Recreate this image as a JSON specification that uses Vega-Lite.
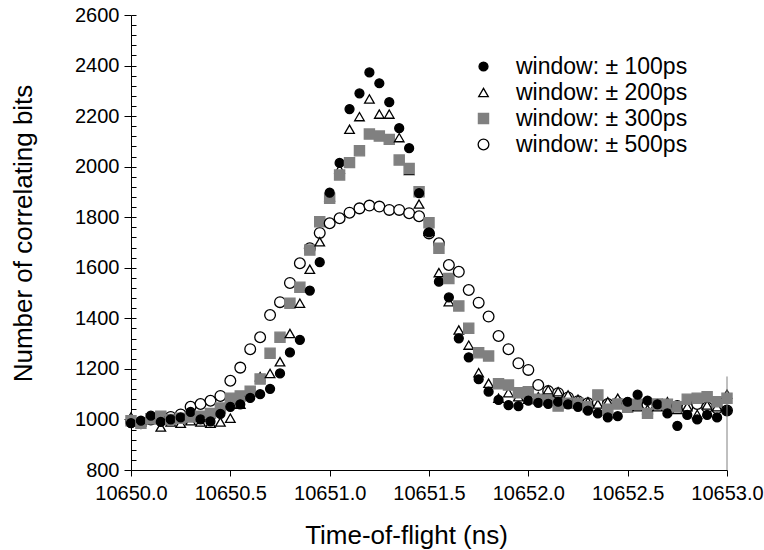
{
  "$schema": "https://vega.github.io/schema/vega-lite/v6.json",
  "width": 596,
  "height": 455,
  "autosize": {"type": "none"},
  "padding": {"left": 131, "top": 15, "right": 37, "bottom": 80},
  "background": "white",
  "config": {
    "view": {"stroke": null},
    "font": "Liberation Sans",
    "axis": {
      "grid": false,
      "domainColor": "#000000",
      "domainWidth": 1,
      "tickColor": "#000000",
      "tickWidth": 1,
      "labelColor": "#000000",
      "titleColor": "#000000",
      "labelFont": "Liberation Sans",
      "titleFont": "Liberation Sans",
      "labelFontSize": 20,
      "titleFontSize": 26,
      "titleFontWeight": "normal",
      "labelFlush": false,
      "labelOverlap": false
    },
    "legend": {
      "orient": "none",
      "legendX": 341,
      "legendY": 40,
      "title": null,
      "padding": 0,
      "labelFontSize": 23,
      "labelFont": "Liberation Sans",
      "labelColor": "#000000",
      "labelOffset": 21,
      "labelLimit": 400,
      "rowPadding": 2,
      "symbolStrokeWidth": 1.3
    }
  },
  "datasets": {
    "counts": [
      {"t": 10650.00, "w100": 985, "w200": 1010, "w300": 995, "w500": 990},
      {"t": 10650.05, "w100": 995, "w200": 990, "w300": 985, "w500": 985},
      {"t": 10650.10, "w100": 1015, "w200": 1000, "w300": 1003, "w500": 1000},
      {"t": 10650.15, "w100": 990, "w200": 970, "w300": 1013, "w500": 1005},
      {"t": 10650.20, "w100": 1000, "w200": 990, "w300": 1000, "w500": 1010},
      {"t": 10650.25, "w100": 1008, "w200": 985, "w300": 1005, "w500": 1020},
      {"t": 10650.30, "w100": 1030, "w200": 995, "w300": 1010, "w500": 1050},
      {"t": 10650.35, "w100": 1000, "w200": 990, "w300": 1013, "w500": 1061},
      {"t": 10650.40, "w100": 992, "w200": 985, "w300": 1024, "w500": 1074},
      {"t": 10650.45, "w100": 1022, "w200": 990, "w300": 1045, "w500": 1093},
      {"t": 10650.50, "w100": 1050, "w200": 1005, "w300": 1084, "w500": 1153},
      {"t": 10650.55, "w100": 1060, "w200": 1060, "w300": 1093, "w500": 1205},
      {"t": 10650.60, "w100": 1085, "w200": 1110, "w300": 1112, "w500": 1278},
      {"t": 10650.65, "w100": 1100, "w200": 1169, "w300": 1160, "w500": 1325},
      {"t": 10650.70, "w100": 1121, "w200": 1182, "w300": 1262, "w500": 1413},
      {"t": 10650.75, "w100": 1182, "w200": 1228, "w300": 1325, "w500": 1464},
      {"t": 10650.80, "w100": 1265, "w200": 1340, "w300": 1460, "w500": 1540},
      {"t": 10650.85, "w100": 1315, "w200": 1460, "w300": 1523, "w500": 1618},
      {"t": 10650.90, "w100": 1510, "w200": 1594, "w300": 1670, "w500": 1677},
      {"t": 10650.95, "w100": 1622, "w200": 1703, "w300": 1782, "w500": 1738},
      {"t": 10651.00, "w100": 1897, "w200": 1881, "w300": 1875, "w500": 1776},
      {"t": 10651.05, "w100": 2015, "w200": 1990, "w300": 1967, "w500": 1796},
      {"t": 10651.10, "w100": 2228, "w200": 2148, "w300": 2016, "w500": 1818},
      {"t": 10651.15, "w100": 2290, "w200": 2198, "w300": 2063, "w500": 1835},
      {"t": 10651.20, "w100": 2373, "w200": 2268, "w300": 2129, "w500": 1846},
      {"t": 10651.25, "w100": 2330, "w200": 2208, "w300": 2121, "w500": 1842},
      {"t": 10651.30, "w100": 2255, "w200": 2208, "w300": 2108, "w500": 1829},
      {"t": 10651.35, "w100": 2152, "w200": 2115, "w300": 2026, "w500": 1829},
      {"t": 10651.40, "w100": 2073, "w200": 1985, "w300": 1993, "w500": 1816},
      {"t": 10651.45, "w100": 1895, "w200": 1852, "w300": 1901, "w500": 1804},
      {"t": 10651.50, "w100": 1740, "w200": 1745, "w300": 1778, "w500": 1736},
      {"t": 10651.55, "w100": 1545, "w200": 1581, "w300": 1677, "w500": 1697},
      {"t": 10651.60, "w100": 1483, "w200": 1466, "w300": 1558, "w500": 1611},
      {"t": 10651.65, "w100": 1321, "w200": 1354, "w300": 1449, "w500": 1584},
      {"t": 10651.70, "w100": 1246, "w200": 1294, "w300": 1361, "w500": 1512},
      {"t": 10651.75, "w100": 1159, "w200": 1185, "w300": 1264, "w500": 1462},
      {"t": 10651.80, "w100": 1110, "w200": 1143, "w300": 1251, "w500": 1407},
      {"t": 10651.85, "w100": 1077, "w200": 1084, "w300": 1141, "w500": 1330},
      {"t": 10651.90, "w100": 1057, "w200": 1106, "w300": 1136, "w500": 1278},
      {"t": 10651.95, "w100": 1053, "w200": 1090, "w300": 1106, "w500": 1222},
      {"t": 10652.00, "w100": 1074, "w200": 1080, "w300": 1110, "w500": 1196},
      {"t": 10652.05, "w100": 1066, "w200": 1090, "w300": 1080, "w500": 1136},
      {"t": 10652.10, "w100": 1062, "w200": 1117, "w300": 1077, "w500": 1112},
      {"t": 10652.15, "w100": 1070, "w200": 1110, "w300": 1053, "w500": 1104},
      {"t": 10652.20, "w100": 1060, "w200": 1097, "w300": 1064, "w500": 1087},
      {"t": 10652.25, "w100": 1050, "w200": 1080, "w300": 1064, "w500": 1072},
      {"t": 10652.30, "w100": 1035, "w200": 1070, "w300": 1050, "w500": 1064},
      {"t": 10652.35, "w100": 1024, "w200": 1061, "w300": 1097, "w500": 1066},
      {"t": 10652.40, "w100": 1008, "w200": 1070, "w300": 1040, "w500": 1061},
      {"t": 10652.45, "w100": 1013, "w200": 1084, "w300": 1061, "w500": 1066},
      {"t": 10652.50, "w100": 1070, "w200": 1060, "w300": 1048, "w500": 1064},
      {"t": 10652.55, "w100": 1098, "w200": 1050, "w300": 1060, "w500": 1061},
      {"t": 10652.60, "w100": 1074, "w200": 1040, "w300": 1024, "w500": 1058},
      {"t": 10652.65, "w100": 1060, "w200": 1050, "w300": 1061, "w500": 1058},
      {"t": 10652.70, "w100": 1024, "w200": 1070, "w300": 1060, "w500": 1055},
      {"t": 10652.75, "w100": 975, "w200": 1040, "w300": 1050, "w500": 1053},
      {"t": 10652.80, "w100": 1018, "w200": 1050, "w300": 1080, "w500": 1048},
      {"t": 10652.85, "w100": 1000, "w200": 1020, "w300": 1084, "w500": 1061},
      {"t": 10652.90, "w100": 1018, "w200": 1057, "w300": 1090, "w500": 1048},
      {"t": 10652.95, "w100": 1008, "w200": 1050, "w300": 1070, "w500": 1044},
      {"t": 10653.00, "w100": 1035, "w200": 1100, "w300": 1084, "w500": 1035}
    ],
    "edge": [
      {"t": 10653.0, "lo": 800, "hi": 1170}
    ]
  },
  "layer": [
    {
      "data": {"name": "counts"},
      "transform": [
        {"fold": ["w500", "w200", "w300", "w100"], "as": ["series", "count"]}
      ],
      "mark": {"type": "point", "opacity": 1, "strokeWidth": 1.3},
      "encoding": {
        "x": {
          "field": "t",
          "type": "quantitative",
          "title": "Time-of-flight (ns)",
          "scale": {"domain": [10650, 10653], "nice": false, "zero": false},
          "axis": {
            "values": [10650, 10650.5, 10651, 10651.5, 10652, 10652.5, 10653],
            "format": ".1f",
            "tickSize": 6,
            "labelPadding": 7,
            "titleX": 275,
            "titleY": 73,
            "titleAlign": "center",
            "titleBaseline": "alphabetic"
          }
        },
        "y": {
          "field": "count",
          "type": "quantitative",
          "title": "Number of correlating bits",
          "scale": {"domain": [800, 2600], "nice": false, "zero": false},
          "axis": {
            "orient": "left",
            "values": [800, 1000, 1200, 1400, 1600, 1800, 2000, 2200, 2400, 2600],
            "format": "d",
            "tickSize": 7,
            "labelPadding": 5,
            "titleX": -100,
            "titleY": 218,
            "titleAlign": "center",
            "titleBaseline": "alphabetic"
          }
        },
        "shape": {
          "field": "series",
          "type": "nominal",
          "scale": {"domain": ["w100", "w200", "w300", "w500"], "range": ["circle", "triangle-up", "square", "circle"]},
          "legend": {"labelExpr": "{'w100': 'window: ± 100ps', 'w200': 'window: ± 200ps', 'w300': 'window: ± 300ps', 'w500': 'window: ± 500ps'}[datum.label]"}
        },
        "fill": {
          "field": "series",
          "type": "nominal",
          "scale": {"domain": ["w100", "w200", "w300", "w500"], "range": ["#000000", "#ffffff", "#808080", "#ffffff"]},
          "legend": {"labelExpr": "{'w100': 'window: ± 100ps', 'w200': 'window: ± 200ps', 'w300': 'window: ± 300ps', 'w500': 'window: ± 500ps'}[datum.label]"}
        },
        "stroke": {
          "field": "series",
          "type": "nominal",
          "scale": {"domain": ["w100", "w200", "w300", "w500"], "range": ["#000000", "#000000", "#808080", "#000000"]},
          "legend": {"labelExpr": "{'w100': 'window: ± 100ps', 'w200': 'window: ± 200ps', 'w300': 'window: ± 300ps', 'w500': 'window: ± 500ps'}[datum.label]"}
        },
        "size": {
          "field": "series",
          "type": "nominal",
          "scale": {"domain": ["w100", "w200", "w300", "w500"], "range": [80, 115, 64, 130]},
          "legend": {"labelExpr": "{'w100': 'window: ± 100ps', 'w200': 'window: ± 200ps', 'w300': 'window: ± 300ps', 'w500': 'window: ± 500ps'}[datum.label]"}
        }
      }
    },
    {
      "data": {"name": "counts"},
      "transform": [
        {"fold": ["w500", "w200", "w300", "w100"], "as": ["series", "count"]}
      ],
      "mark": {"type": "point", "opacity": 0},
      "encoding": {
        "x": {"field": "t", "type": "quantitative", "title": "Time-of-flight (ns)"},
        "y": {
          "field": "count",
          "type": "quantitative",
          "axis": {
            "orient": "left",
            "values": [800, 840, 880, 920, 960, 1000, 1040, 1080, 1120, 1160, 1200, 1240, 1280, 1320, 1360, 1400, 1440, 1480, 1520, 1560, 1600, 1640, 1680, 1720, 1760, 1800, 1840, 1880, 1920, 1960, 2000, 2040, 2080, 2120, 2160, 2200, 2240, 2280, 2320, 2360, 2400, 2440, 2480, 2520, 2560, 2600],
            "labels": false,
            "domain": false,
            "title": null,
            "tickSize": -5
          }
        }
      }
    },
    {
      "data": {"name": "edge"},
      "mark": {"type": "rule", "color": "#808080", "strokeWidth": 1},
      "encoding": {
        "x": {"field": "t", "type": "quantitative", "title": "Time-of-flight (ns)"},
        "y": {"field": "lo", "type": "quantitative", "axis": null},
        "y2": {"field": "hi"}
      }
    }
  ],
  "resolve": {"axis": {"y": "independent"}}
}
